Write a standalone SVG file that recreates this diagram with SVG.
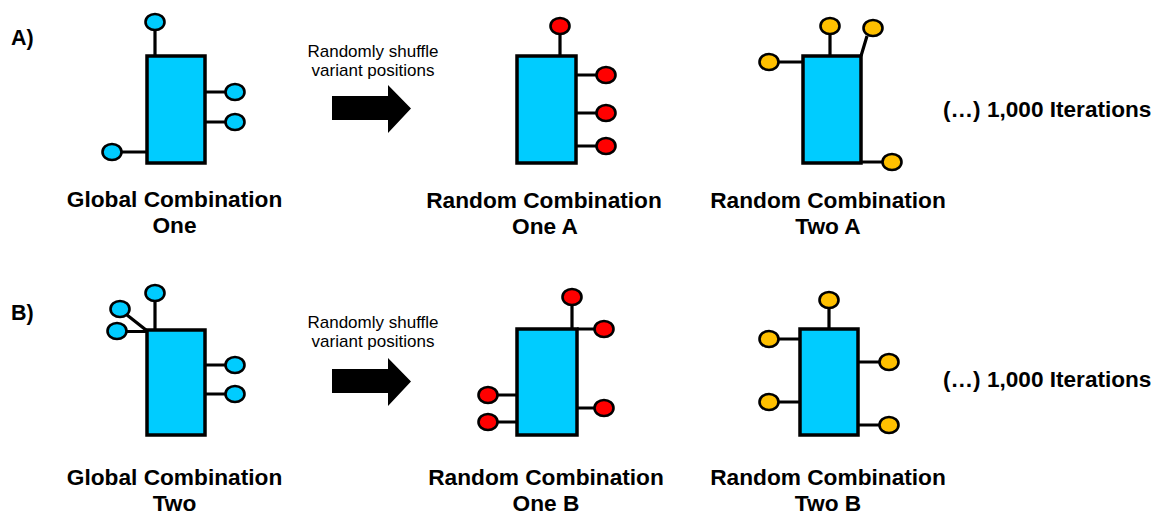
<svg xmlns="http://www.w3.org/2000/svg" width="1158" height="522" viewBox="0 0 1158 522">
<style>
.box{fill:#00CCFF;stroke:#000;stroke-width:3.5}
.stem{stroke:#000;stroke-width:3.2;fill:none}
.b{fill:#00CCFF;stroke:#000;stroke-width:2.6}
.r{fill:#FF0000;stroke:#000;stroke-width:2.6}
.y{fill:#FFC000;stroke:#000;stroke-width:2.6}
.lbl{font-family:"Liberation Sans",Arial,Helvetica,sans-serif;font-weight:bold;font-size:22.7px;fill:#000;text-anchor:middle}
.tag{font-family:"Liberation Sans",Arial,Helvetica,sans-serif;font-weight:bold;font-size:21.5px;fill:#000}
.note{font-family:"Liberation Sans",Arial,Helvetica,sans-serif;font-size:17px;fill:#000;text-anchor:middle}
.it{font-family:"Liberation Sans",Arial,Helvetica,sans-serif;font-weight:bold;font-size:22.6px;fill:#000}
.arrow{fill:#000}
</style>
<rect width="1158" height="522" fill="#fff"/>
<text class="tag" x="11" y="45">A)</text>
<text class="tag" x="11" y="320">B)</text>

<g id="global-one">
<path class="stem" d="M155 31V56M204 92H226M204 122H226M121 152H147"/>
<rect class="box" x="147" y="56" width="58" height="107"/>
<ellipse class="b" cx="155" cy="22" rx="9.5" ry="8"/>
<ellipse class="b" cx="235" cy="92" rx="9.5" ry="8"/>
<ellipse class="b" cx="235" cy="122" rx="9.5" ry="8"/>
<ellipse class="b" cx="112" cy="152" rx="9.5" ry="8"/>
<text class="lbl" x="174.5" y="207">Global Combination</text>
<text class="lbl" x="174.5" y="233">One</text>
</g>

<g id="random-one-a">
<path class="stem" d="M560 34V56M576 75H597M576 113H597M576 146H597"/>
<rect class="box" x="517" y="56" width="59" height="107"/>
<ellipse class="r" cx="560" cy="26" rx="9.5" ry="8"/>
<ellipse class="r" cx="606" cy="75" rx="9.5" ry="8"/>
<ellipse class="r" cx="606" cy="113" rx="9.5" ry="8"/>
<ellipse class="r" cx="606" cy="146" rx="9.5" ry="8"/>
<text class="lbl" x="544" y="208">Random Combination</text>
<text class="lbl" x="545" y="234">One A</text>
</g>

<g id="random-two-a">
<path class="stem" d="M830 34V56M867 36L861 56M778 62H803M861 162H883"/>
<rect class="box" x="803" y="56" width="58" height="107"/>
<ellipse class="y" cx="830" cy="26" rx="9.5" ry="8"/>
<ellipse class="y" cx="873" cy="28" rx="9.5" ry="8"/>
<ellipse class="y" cx="769" cy="62" rx="9.5" ry="8"/>
<ellipse class="y" cx="892" cy="162" rx="9.5" ry="8"/>
<text class="lbl" x="828" y="208">Random Combination</text>
<text class="lbl" x="828" y="234">Two A</text>
</g>

<g id="iterations-a">
<text class="it" x="943" y="117">(…) 1,000 Iterations</text>
</g>

<g id="global-two">
<path class="stem" d="M155 301V330M127 315L146 330M126 331.5H147M205 365H226M205 394H226"/>
<rect class="box" x="147" y="330" width="58" height="105"/>
<ellipse class="b" cx="155" cy="293" rx="9.5" ry="8"/>
<ellipse class="b" cx="120" cy="309" rx="9.5" ry="8"/>
<ellipse class="b" cx="117" cy="331" rx="9.5" ry="8"/>
<ellipse class="b" cx="235" cy="365" rx="9.5" ry="8"/>
<ellipse class="b" cx="235" cy="394" rx="9.5" ry="8"/>
<text class="lbl" x="174.5" y="485">Global Combination</text>
<text class="lbl" x="174.5" y="511">Two</text>
</g>

<g id="random-one-b">
<path class="stem" d="M572 305V329M577 329H595M577 408H595M497 395H517M497 422H517"/>
<rect class="box" x="517" y="329" width="60" height="106"/>
<ellipse class="r" cx="572" cy="297" rx="9.5" ry="8"/>
<ellipse class="r" cx="604" cy="329" rx="9.5" ry="8"/>
<ellipse class="r" cx="604" cy="408" rx="9.5" ry="8"/>
<ellipse class="r" cx="488" cy="395" rx="9.5" ry="8"/>
<ellipse class="r" cx="488" cy="422" rx="9.5" ry="8"/>
<text class="lbl" x="546" y="485">Random Combination</text>
<text class="lbl" x="546" y="511">One B</text>
</g>

<g id="random-two-b">
<path class="stem" d="M829 308V329M778 339H800M778 402H800M858 362H880M858 425H880"/>
<rect class="box" x="800" y="329" width="58" height="106"/>
<ellipse class="y" cx="829" cy="300" rx="9.5" ry="8"/>
<ellipse class="y" cx="769" cy="339" rx="9.5" ry="8"/>
<ellipse class="y" cx="769" cy="402" rx="9.5" ry="8"/>
<ellipse class="y" cx="889" cy="362" rx="9.5" ry="8"/>
<ellipse class="y" cx="889" cy="425" rx="9.5" ry="8"/>
<text class="lbl" x="828" y="485">Random Combination</text>
<text class="lbl" x="828" y="511">Two B</text>
</g>

<g id="iterations-b">
<text class="it" x="943" y="387">(…) 1,000 Iterations</text>
</g>

<g id="connectors">
<text class="note" x="373" y="57">Randomly shuffle</text>
<text class="note" x="373" y="75.5">variant positions</text>
<polygon class="arrow" points="332,96 388,96 388,85 411,108.5 388,133 388,120 332,120"/>
<text class="note" x="373" y="328">Randomly shuffle</text>
<text class="note" x="373" y="346.5">variant positions</text>
<polygon class="arrow" points="332,369 388,369 388,358 411,381.5 388,406 388,393 332,393"/>
</g>
</svg>
